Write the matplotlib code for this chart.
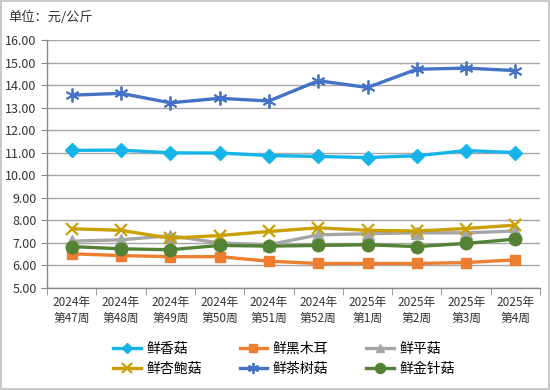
import matplotlib
matplotlib.use("Agg")
import matplotlib.pyplot as plt
from matplotlib.patches import Rectangle

plt.rcParams['font.family'] = ['Noto Sans CJK SC', 'DejaVu Sans']

categories = ["2024年\n第47周", "2024年\n第48周", "2024年\n第49周", "2024年\n第50周",
              "2024年\n第51周", "2024年\n第52周", "2025年\n第1周", "2025年\n第2周",
              "2025年\n第3周", "2025年\n第4周"]
xianggu = [11.11, 11.12, 11.00, 10.99, 10.88, 10.84, 10.79, 10.87, 11.10, 11.01]
heimuer = [6.52, 6.44, 6.39, 6.39, 6.19, 6.09, 6.09, 6.09, 6.13, 6.25]
pinggu = [7.08, 7.14, 7.32, 7.00, 6.92, 7.36, 7.41, 7.45, 7.45, 7.53]
xingbaogu = [7.63, 7.56, 7.21, 7.33, 7.51, 7.67, 7.56, 7.53, 7.64, 7.79]
chashugu = [13.56, 13.64, 13.22, 13.42, 13.30, 14.20, 13.90, 14.71, 14.76, 14.65]
jinzhengu = [6.84, 6.74, 6.70, 6.89, 6.86, 6.89, 6.92, 6.84, 6.98, 7.17]

series = [
    ("鲜香菇", xianggu, "#17B4EA", "D", 7, dict()),
    ("鲜黑木耳", heimuer, "#ED7D31", "s", 6.5, dict()),
    ("鲜平菇", pinggu, "#A5A5A5", "^", 8, dict()),
    ("鲜杏鲍菇", xingbaogu, "#C9A000", "x", 9, dict(markeredgewidth=1.6)),
    ("鲜茶树菇", chashugu, "#4472C4", (6, 2, 0), 10, dict(markeredgewidth=1.3)),
    ("鲜金针菇", jinzhengu, "#548235", "o", 9, dict()),
]

fig = plt.figure(figsize=(5.5, 3.9), dpi=100)
ax = fig.add_axes([0.0855, 0.2615, 0.8965, 0.6355])

x = list(range(len(categories)))
handles = []
for name, vals, col, mk, ms, kw in series:
    ln, = ax.plot(x, vals, color=col, lw=2.4, marker=mk, markersize=ms,
                  markerfacecolor=col, markeredgecolor=col, label=name, **kw)
    handles.append(ln)

ax.set_xlim(-0.5, len(categories) - 0.5)
ax.set_ylim(5, 16)
ax.set_yticks([5 + i for i in range(12)])
ax.set_yticklabels([f"{5 + i:.2f}" for i in range(12)], fontsize=9, color="#333333")
ax.grid(axis='y', color="#A6A6A6", lw=1.0)
ax.set_axisbelow(True)

ax.set_xticks(x)
ax.set_xticklabels(categories, fontsize=8.5, color="#333333", linespacing=1.3)
ax.tick_params(axis='x', length=0, pad=6)
ax.set_xticks([i - 0.5 for i in range(len(categories) + 1)], minor=True)
ax.tick_params(axis='x', which='minor', length=5, color="#888888", direction='out')
ax.tick_params(axis='y', length=4, color="#888888", direction='out')

for s in ['top', 'right']:
    ax.spines[s].set_visible(False)
for s in ['left', 'bottom']:
    ax.spines[s].set_color("#888888")
    ax.spines[s].set_linewidth(1.0)

fig.text(8 / 550, 1 - 17 / 390, "单位：元/公斤", fontsize=9.5, color="#333333", va='center')

# legend filled column-wise: reorder so rows read 香菇/黑木耳/平菇 then 杏鲍菇/茶树菇/金针菇
order = [0, 3, 1, 4, 2, 5]
leg = fig.legend(handles=[handles[i] for i in order], loc='center',
                 bbox_to_anchor=(284 / 550, 1 - 359 / 390),
                 ncol=3, frameon=False, fontsize=10, handlelength=2.0,
                 columnspacing=2.7, handletextpad=0.4, labelspacing=0.45,
                 markerscale=0.8)

fig.patches.append(Rectangle((0.002, 0.002), 0.996, 0.996, transform=fig.transFigure,
                             fill=False, edgecolor="#BFBFBF", lw=1.2))

fig.savefig("out.png", dpi=100)
